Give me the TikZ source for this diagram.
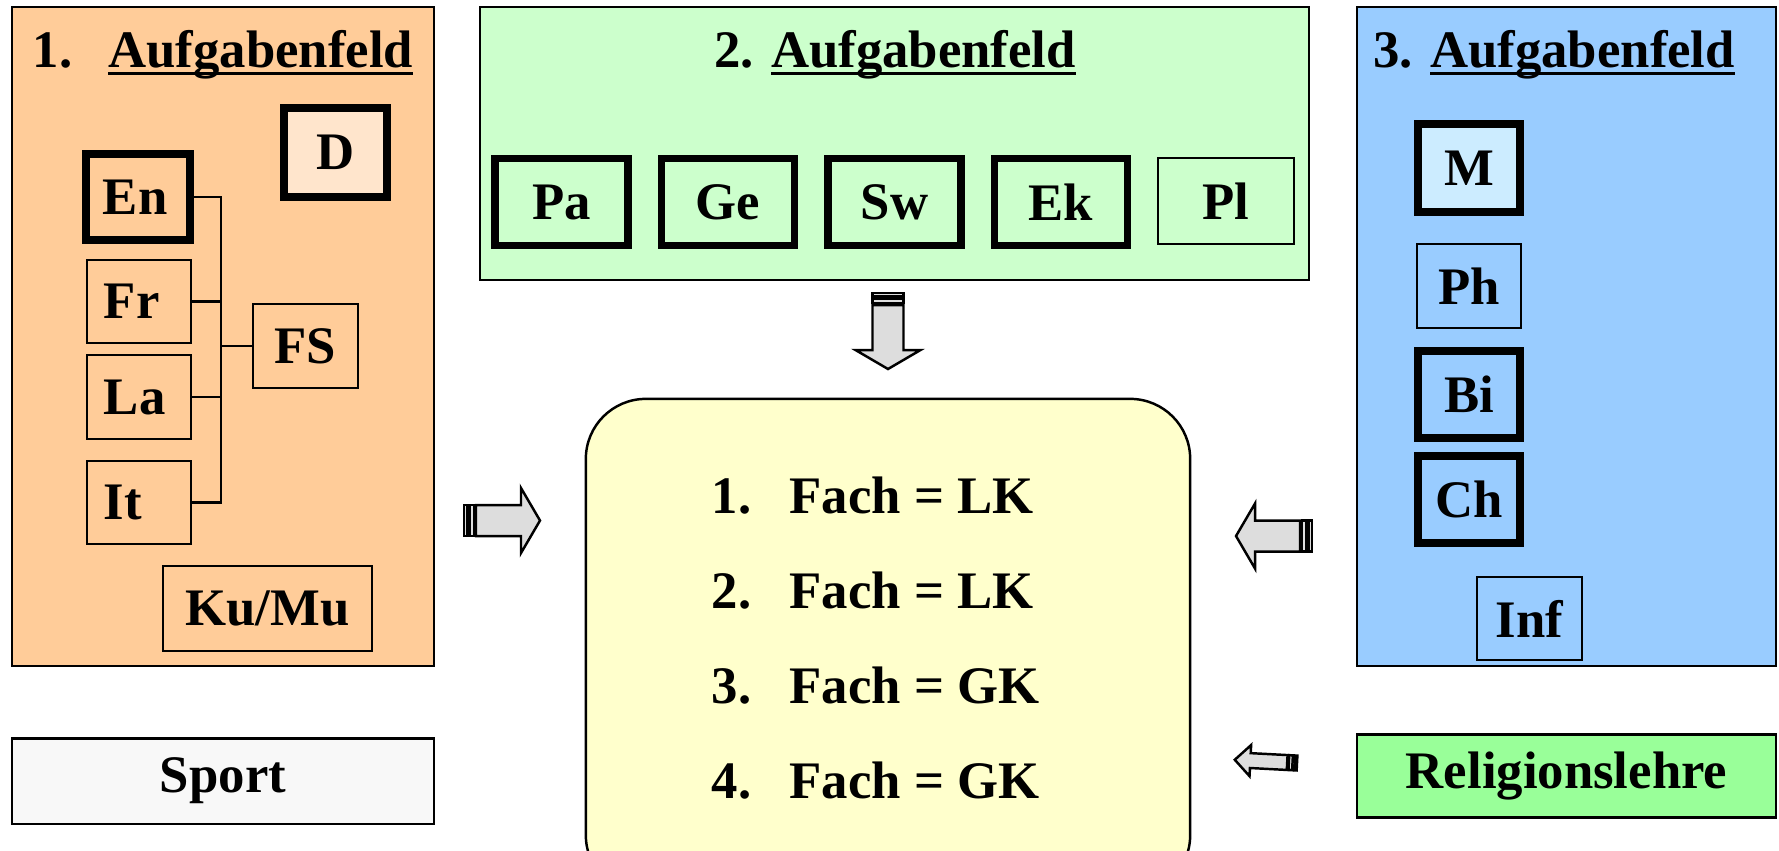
\documentclass[tikz,border=0pt]{standalone}
\usepackage{fontspec}
\setmainfont{Liberation Serif}
\usepackage{tikz}
\newcommand{\feldul}[1]{\setbox0=\hbox{#1}\rlap{\rule[-0.16em]{\wd0}{1pt}}\box0}
\definecolor{FeldOrange}{HTML}{FFCC99}
\definecolor{FeldGreen}{HTML}{CCFFCC}
\definecolor{FeldBlue}{HTML}{99CCFF}
\definecolor{KursYellow}{HTML}{FFFFCC}
\definecolor{DeutschPeach}{HTML}{FFE5CC}
\definecolor{MatheBlue}{HTML}{CCECFF}
\definecolor{ReliGreen}{HTML}{99FF99}
\definecolor{SportGray}{HTML}{F8F8F8}
\definecolor{ArrowGray}{HTML}{DDDDDD}
\usetikzlibrary{positioning}
\tikzset{
  % Box styles
  feldbox/.style={rectangle, draw=black, line width=0.7pt, inner sep=0pt},
  fachbox/.style={rectangle, draw=black, line width=0.6pt, font=\fontsize{15}{18}\selectfont\bfseries, align=center},
  lkbox/.style={fachbox, line width=2.2pt},
  colbox/.style={text width=0.7cm, align=left, inner xsep=0.17cm},
  titletext/.style={font=\fontsize{15}{18}\selectfont\bfseries, anchor=base, inner sep=0pt},
  fachtext/.style={font=\fontsize{15}{18}\selectfont\bfseries, anchor=base west, inner sep=0pt},
  % Line and arrow styles
  linkline/.style={draw=black, line width=0.6pt},
  arrowline/.style={draw=black, line width=0.7pt, fill=ArrowGray, line join=miter},
  pics/stripearrow/.style={code={
    \draw[arrowline] (0,-15.5) rectangle (3,15.5);
    \draw[arrowline] (5.5,-15.5) rectangle (10,15.5);
    \draw[arrowline] (12,-15.5) -- (57,-15.5) -- (57,-32.5) -- (76,0) -- (57,32.5) -- (57,15.5) -- (12,15.5) -- cycle;
  }}
}

\begin{document}
\begin{tikzpicture}[x=0.01cm, y=-0.01cm]
  \clip (0,0) rectangle (1779,850);
  \fill[white] (0,0) rectangle (1779,850);

  % 1. Aufgabenfeld
  \node[feldbox, fill=FeldOrange, minimum width=4.22cm, minimum height=6.59cm] (feld1) at (223,336.5) {};
  \node[titletext] (title1) at (223,67) {1.\hspace{0.68em}\feldul{Aufgabenfeld}};
  \node[lkbox, fill=DeutschPeach, minimum width=1.03cm, minimum height=0.89cm] (d) at (335.5,152.5) {D};
  \node[lkbox, colbox, minimum height=0.86cm] (en) at (138,197) {En};
  \node[fachbox, colbox, minimum height=0.83cm] (fr) at (139,301.5) {Fr};
  \node[fachbox, colbox, minimum height=0.84cm] (la) at (139,397) {La};
  \node[fachbox, colbox, minimum height=0.83cm] (it) at (139,502.5) {It};
  \node[fachbox, minimum width=1.05cm, minimum height=0.84cm] (fs) at (305.5,346) {FS};
  \node[fachbox, minimum width=2.09cm, minimum height=0.85cm] (kumu) at (267.5,608.5) {Ku/Mu};

  % Fremdsprachen
  \coordinate (bus) at (221,346);
  \draw[linkline] (en.east) -| (bus) |- (it.east);
  \draw[linkline] (fr.east) -- (fr.east -| bus);
  \draw[linkline] (la.east) -- (la.east -| bus);
  \draw[linkline] (bus) -- (fs.west);

  % 2. Aufgabenfeld
  \node[feldbox, fill=FeldGreen, minimum width=8.29cm, minimum height=2.73cm] (feld2) at (894.5,143.5) {};
  \node[titletext] (title2) at (895,67) {2. \feldul{Aufgabenfeld}};
  \foreach \name/\lbl [count=\i] in {pa/Pa, ge/Ge, sw/Sw, ek/Ek}
    \node[lkbox, minimum width=1.33cm, minimum height=0.87cm] (\name) at (561.5+166.5*\i-166.5, 202) {\lbl};
  \node[fachbox, minimum width=1.36cm, minimum height=0.86cm] (pl) at (1226,201) {Pl};

  % 3. Aufgabenfeld
  \node[feldbox, fill=FeldBlue, minimum width=4.19cm, minimum height=6.59cm] (feld3) at (1566.5,336.5) {};
  \node[titletext] (title3) at (1554,67) {3. \feldul{Aufgabenfeld}};
  \node[lkbox, fill=MatheBlue, minimum width=1.02cm, minimum height=0.88cm] (m) at (1469,168) {M};
  \node[fachbox, minimum width=1.04cm, minimum height=0.84cm] (ph) at (1469,286) {Ph};
  \node[lkbox, minimum width=1.02cm, minimum height=0.87cm] (bi) at (1469,394.5) {Bi};
  \node[lkbox, minimum width=1.02cm, minimum height=0.87cm] (ch) at (1469,499.5) {Ch};
  \node[fachbox, minimum width=1.05cm, minimum height=0.83cm] (inf) at (1529.5,618.5) {Inf};

  % Sport und Religion
  \node[fachbox, fill=SportGray, minimum width=4.22cm, minimum height=0.85cm] (sport) at (223,781) {Sport};
  \node[fachbox, fill=ReliGreen, minimum width=4.19cm, minimum height=0.83cm] (reli) at (1566.5,776) {Religionslehre};

  % Kurse
  \node[feldbox, fill=KursYellow, rounded corners=0.6cm, minimum width=6.04cm, minimum height=4.96cm] (kurse) at (888,647) {};
  \foreach \n/\k in {1/LK, 2/LK, 3/GK, 4/GK}
    \node[fachtext] (fach\n) at (711, 418+95*\n) {\makebox[0.78cm][l]{\n.}Fach = \k};

  % Pfeile
  \pic at (464,520.5) {stripearrow};
  \pic[rotate=-90] at (888,293) {stripearrow};
  \pic[rotate=180] at (1312,536) {stripearrow};
  \pic[rotate=177, xscale=0.82, yscale=0.48] at (1297,763) {stripearrow};
\end{tikzpicture}
\end{document}
